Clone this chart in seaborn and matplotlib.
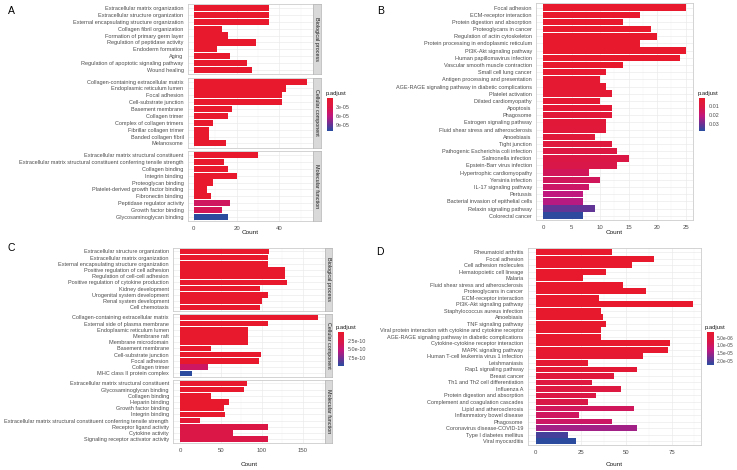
import numpy as np
import pandas as pd
import matplotlib
matplotlib.use("Agg")
import matplotlib.pyplot as plt
import seaborn as sns
from matplotlib.colors import LinearSegmentedColormap, Normalize
from matplotlib.cm import ScalarMappable

sns.set_theme(style="white")
plt.rcParams['font.family'] = ['Liberation Sans', 'DejaVu Sans']

# ---------------- Panel A (GO, 3 facets) ----------------
a_facets = ["Biological process", "Cellular component", "Molecular function"]
a_bp_terms = ["Extracellular matrix organization", "Extracellular structure organization",
              "External encapsulating structure organization", "Collagen fibril organization",
              "Formation of primary germ layer", "Regulation of peptidase activity",
              "Endoderm formation", "Aging", "Regulation of apoptotic signaling pathway",
              "Wound healing"]
a_bp_count = [35, 35, 35, 13, 16, 29, 11, 17, 25, 27]
a_bp_padj = [1e-10, 1e-10, 1e-10, 2e-9, 3e-7, 5e-7, 1e-6, 1.5e-6, 2e-6, 2.5e-6]
a_cc_terms = ["Collagen-containing extracellular matrix", "Endoplasmic reticulum lumen",
              "Focal adhesion", "Cell-substrate junction", "Basement membrane", "Collagen trimer",
              "Complex of collagen trimers", "Fibrillar collagen trimer", "Banded collagen fibril",
              "Melanosome"]
a_cc_count = [53, 43, 41, 41, 18, 16, 9, 7, 7, 15]
a_cc_padj = [1e-20, 1e-12, 1e-11, 1e-11, 1e-9, 1e-9, 1e-8, 1e-7, 1e-7, 2e-6]
a_mf_terms = ["Extracellular matrix structural constituent",
              "Extracellular matrix structural constituent conferring tensile strength",
              "Collagen binding", "Integrin binding", "Proteoglycan binding",
              "Platelet-derived growth factor binding", "Fibronectin binding",
              "Peptidase regulator activity", "Growth factor binding", "Glycosaminoglycan binding"]
a_mf_count = [30, 14, 16, 20, 9, 6, 8, 17, 13, 16]
a_mf_padj = [1e-12, 1e-10, 1e-9, 1e-8, 2e-7, 1e-6, 2e-6, 4.5e-5, 4.0e-5, 1.1e-4]
a_cbar_ticks = [3e-05, 6e-05, 9e-05]
a_cbar_labels = ["3e-05", "6e-05", "9e-05"]

# ---------------- Panel B (KEGG) ----------------
b_terms = ["Focal adhesion", "ECM-receptor interaction", "Protein digestion and absorption",
           "Proteoglycans in cancer", "Regulation of actin cytoskeleton",
           "Protein processing in endoplasmic reticulum", "PI3K-Akt signaling pathway",
           "Human papillomavirus infection", "Vascular smooth muscle contraction",
           "Small cell lung cancer", "Antigen processing and presentation",
           "AGE-RAGE signaling pathway in diabetic complications", "Platelet activation",
           "Dilated cardiomyopathy", "Apoptosis", "Phagosome", "Estrogen signaling pathway",
           "Fluid shear stress and atherosclerosis", "Amoebiasis", "Tight junction",
           "Pathogenic Escherichia coli infection", "Salmonella infection",
           "Epstein-Barr virus infection", "Hypertrophic cardiomyopathy", "Yersinia infection",
           "IL-17 signaling pathway", "Pertussis", "Bacterial invasion of epithelial cells",
           "Relaxin signaling pathway", "Colorectal cancer"]
b_count = [25, 17, 14, 19, 20, 17, 25, 24, 14, 11, 10, 11, 12, 10, 12, 12, 11, 11, 9, 12,
           13, 15, 13, 8, 10, 8, 7, 7, 9, 7]
b_padj = [0.0013, 0.0013, 0.0014, 0.0014, 0.0015, 0.0015, 0.0015, 0.0016, 0.0020, 0.0030,
          0.0035, 0.0038, 0.0040, 0.0042, 0.0045, 0.0060, 0.0062, 0.0064, 0.0068, 0.0080,
          0.0100, 0.0110, 0.0120, 0.0150, 0.0155, 0.0170, 0.0210, 0.0220, 0.0310, 0.0370]
b_cbar_ticks = [0.01, 0.02, 0.03]
b_cbar_labels = ["0.01", "0.02", "0.03"]

# ---------------- Panel C (GO, 3 facets) ----------------
c_bp_terms = ["Extracellular structure organization", "Extracellular matrix organization",
              "External encapsulating structure organization",
              "Positive regulation of cell adhesion", "Regulation of cell-cell adhesion",
              "Positive regulation of cytokine production", "Kidney development",
              "Urogenital system development", "Renal system development", "Cell chemotaxis"]
c_bp_count = [109, 108, 108, 129, 128, 131, 98, 107, 100, 98]
c_bp_padj = [1e-20, 1e-20, 1e-20, 1e-18, 1e-18, 1e-18, 1e-16, 1e-16, 1e-16, 1e-15]
c_cc_terms = ["Collagen-containing extracellular matrix", "External side of plasma membrane",
              "Endoplasmic reticulum lumen", "Membrane raft", "Membrane microdomain",
              "Basement membrane", "Cell-substrate junction", "Focal adhesion",
              "Collagen trimer", "MHC class II protein complex"]
c_cc_count = [169, 107, 83, 83, 83, 38, 99, 96, 34, 14]
c_cc_padj = [1e-30, 1e-18, 1e-14, 1e-14, 1e-14, 1e-13, 1e-13, 1e-13, 4.2e-10, 9.9e-10]
c_mf_terms = ["Extracellular matrix structural constituent", "Glycosaminoglycan binding",
              "Collagen binding", "Heparin binding", "Growth factor binding", "Integrin binding",
              "Extracellular matrix structural constituent conferring tensile strength",
              "Receptor ligand activity", "Cytokine activity",
              "Signaling receptor activator activity"]
c_mf_count = [82, 78, 38, 60, 54, 55, 24, 107, 65, 108]
c_mf_padj = [1e-20, 1e-16, 1e-14, 1e-13, 1e-12, 1e-12, 1.0e-10, 2.6e-10, 2.8e-10, 2.8e-10]
c_cbar_ticks = [2.5e-10, 5.0e-10, 7.5e-10]
c_cbar_labels = ["2.5e-10", "5.0e-10", "7.5e-10"]

# ---------------- Panel D (KEGG) ----------------
d_terms = ["Rheumatoid arthritis", "Focal adhesion", "Cell adhesion molecules",
           "Hematopoietic cell lineage", "Malaria", "Fluid shear stress and atherosclerosis",
           "Proteoglycans in cancer", "ECM-receptor interaction", "PI3K-Akt signaling pathway",
           "Staphylococcus aureus infection", "Amoebiasis", "TNF signaling pathway",
           "Viral protein interaction with cytokine and cytokine receptor",
           "AGE-RAGE signaling pathway in diabetic complications",
           "Cytokine-cytokine receptor interaction", "MAPK signaling pathway",
           "Human T-cell leukemia virus 1 infection", "Leishmaniasis", "Rap1 signaling pathway",
           "Breast cancer", "Th1 and Th2 cell differentiation", "Influenza A",
           "Protein digestion and absorption", "Complement and coagulation cascades",
           "Lipid and atherosclerosis", "Inflammatory bowel disease", "Phagosome",
           "Coronavirus disease-COVID-19", "Type I diabetes mellitus", "Viral myocarditis"]
d_count = [42, 65, 53, 39, 26, 48, 61, 35, 87, 36, 37, 39, 36, 36, 74, 73, 59, 29, 56, 43,
           31, 47, 33, 29, 54, 24, 42, 56, 18, 22]
d_padj = [1.1e-6, 1.1e-6, 1.1e-6, 1.1e-6, 1.2e-6, 1.2e-6, 1.2e-6, 1.3e-6, 1.3e-6, 1.4e-6,
          1.5e-6, 1.6e-6, 1.7e-6, 1.8e-6, 1.9e-6, 2.0e-6, 2.3e-6, 2.8e-6, 3.2e-6, 4.5e-6,
          5.5e-6, 6.0e-6, 6.5e-6, 7.5e-6, 9.5e-6, 1.0e-5, 1.05e-5, 1.5e-5, 2.1e-5, 2.28e-5]
d_cbar_ticks = [5.0e-06, 1.0e-05, 1.5e-05, 2.0e-05]
d_cbar_labels = ["5.0e-06", "1.0e-05", "1.5e-05", "2.0e-05"]

# ---------------- styling ----------------
W, H = 737, 470
fig = plt.figure(figsize=(W / 100, H / 100), dpi=100)
cmap = LinearSegmentedColormap.from_list(
    "padj", [(0.0, "#E8192C"), (0.3, "#D91748"), (0.55, "#C0177E"),
             (0.8, "#6A3294"), (1.0, "#2B4B9F")])

LAB_FS = 4.0
TICK_FS = 4.3
TXT = "#4D4D4D"


def px_axes(l, t, r, b):
    return fig.add_axes([l / W, 1 - b / H, (r - l) / W, (b - t) / H])


def draw_bars(ax, terms, counts, padj, norm, xlim, major, minor, show_x):
    df = pd.DataFrame({"Description": terms, "Count": counts, "p.adjust": padj})
    pal = {t: cmap(norm(p)) for t, p in zip(terms, padj)}
    ax.set_axisbelow(True)
    sns.barplot(data=df, x="Count", y="Description", hue="Description",
                hue_order=terms, order=terms, palette=pal, legend=False,
                orient="h", width=0.9, errorbar=None, saturation=1, ax=ax,
                linewidth=0)
    ax.set_xlim(*xlim)
    n = len(terms)
    ax.set_ylim(n - 1 + 0.6, -0.6)
    ax.set_xticks(major)
    ax.set_xticks(minor, minor=True)
    ax.grid(True, which="major", axis="both", color="#EBEBEB", lw=0.5)
    ax.grid(True, which="minor", axis="x", color="#F2F2F2", lw=0.3)
    ax.tick_params(axis="y", which="major", length=2, width=0.4, color="#333333",
                   labelsize=LAB_FS, labelcolor=TXT, pad=1.2)
    ax.tick_params(axis="x", which="major", length=2, width=0.4, color="#333333",
                   labelsize=TICK_FS, labelcolor=TXT, pad=1.5)
    ax.tick_params(axis="x", which="minor", length=0)
    ax.set_ylabel("")
    ax.set_xlabel("")
    if not show_x:
        ax.tick_params(axis="x", which="major", labelbottom=False, length=0)
    for s in ax.spines.values():
        s.set_color("#CCCCCC")
        s.set_linewidth(0.6)
    ax.set_facecolor("white")


def add_strip(l, t, r, b, text):
    sax = px_axes(l, t, r, b)
    sax.set_xticks([])
    sax.set_yticks([])
    sax.set_facecolor("#D9D9D9")
    for s in sax.spines.values():
        s.set_color("#BBBBBB")
        s.set_linewidth(0.6)
    sax.text(0.5, 0.5, text, rotation=-90, ha="center", va="center",
             fontsize=3.9, color="#1A1A1A", transform=sax.transAxes)


def add_cbar(l, t, r, b, norm, ticks, labels, title, fs=3.9):
    cax = px_axes(l, t, r, b)
    sm = ScalarMappable(norm=norm, cmap=cmap)
    cb = fig.colorbar(sm, cax=cax)
    cb.outline.set_visible(False)
    cax.invert_yaxis()
    cb.set_ticks(ticks)
    cb.set_ticklabels(labels)
    cax.tick_params(labelsize=fs, length=1.5, width=0.4, color="white",
                    labelcolor=TXT, pad=1.0)
    fig.text((l - 2) / W, 1 - (t - 2) / H, title, fontsize=4.2, color="#1A1A1A",
             ha="left", va="bottom")


def facet_panel(l, r, top, bottom, gap, strip_w, groups, norm, xlim, major, minor,
                cbar_rect, cticks, clabels):
    nf = len(groups)
    hh = (bottom - top - gap * (nf - 1)) / nf
    for i, (name, terms, counts, padj) in enumerate(groups):
        t = top + i * (hh + gap)
        b = t + hh
        ax = px_axes(l, t, r, b)
        draw_bars(ax, terms, counts, padj, norm, xlim, major, minor, i == nf - 1)
        add_strip(r, t, r + strip_w, b, name)
    add_cbar(*cbar_rect, norm, cticks, clabels, "p.adjust")


# ----- A -----
normA = Normalize(vmin=0, vmax=1.1e-4)
facet_panel(188, 313, 4, 221, 3.5, 7.5,
            [(a_facets[0], a_bp_terms, a_bp_count, a_bp_padj),
             (a_facets[1], a_cc_terms, a_cc_count, a_cc_padj),
             (a_facets[2], a_mf_terms, a_mf_count, a_mf_padj)],
            normA, (-2.65, 55.65), [0, 20, 40], [10, 30, 50],
            (327.3, 98, 332.7, 130.7), a_cbar_ticks, a_cbar_labels)
fig.text(250 / W, 1 - 233 / H, "Count", fontsize=4.6, color="#1A1A1A", ha="center", va="center")

# ----- B -----
normB = Normalize(vmin=0.0013, vmax=0.0373)
axB = px_axes(536.2, 3.3, 692.7, 220)
draw_bars(axB, b_terms, b_count, b_padj, normB, (-1.25, 26.25),
          [0, 5, 10, 15, 20, 25], [2.5, 7.5, 12.5, 17.5, 22.5], True)
add_cbar(699.3, 98.3, 705.3, 130.7, normB, b_cbar_ticks, b_cbar_labels, "p.adjust")
fig.text(614 / W, 1 - 233 / H, "Count", fontsize=4.6, color="#1A1A1A", ha="center", va="center")

# ----- C -----
normC = Normalize(vmin=0, vmax=9.9e-10)
facet_panel(173.4, 325, 247.7, 443, 2.6, 6.5,
            [(a_facets[0], c_bp_terms, c_bp_count, c_bp_padj),
             (a_facets[1], c_cc_terms, c_cc_count, c_cc_padj),
             (a_facets[2], c_mf_terms, c_mf_count, c_mf_padj)],
            normC, (-8.45, 177.45), [0, 50, 100, 150], [25, 75, 125, 175],
            (337.7, 332, 344.3, 365.7), c_cbar_ticks, c_cbar_labels)
fig.text(249 / W, 1 - 464 / H, "Count", fontsize=4.6, color="#1A1A1A", ha="center", va="center")

# ----- D -----
normD = Normalize(vmin=1.1e-6, vmax=2.28e-5)
axD = px_axes(527.8, 248.3, 701.3, 445)
draw_bars(axD, d_terms, d_count, d_padj, normD, (-4.35, 91.35),
          [0, 25, 50, 75], [12.5, 37.5, 62.5, 87.5], True)
add_cbar(707, 331.7, 713.5, 365, normD, d_cbar_ticks, d_cbar_labels, "p.adjust", fs=3.5)
fig.text(614 / W, 1 - 465 / H, "Count", fontsize=4.6, color="#1A1A1A", ha="center", va="center")

# ----- panel letters -----
for lx, ly, letter in [(8, 11, "A"), (377, 11, "B"), (8, 248, "C"), (376, 252, "D")]:
    fig.text(lx / W, 1 - ly / H, letter, fontsize=7.5, color="black", ha="left", va="center")

fig.savefig("out.png", dpi=100)
